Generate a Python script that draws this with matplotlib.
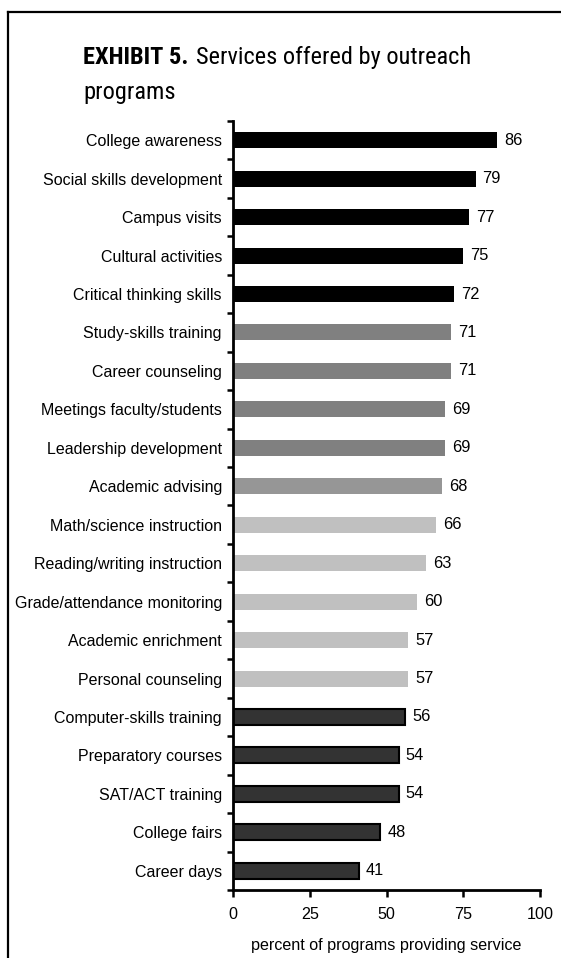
import matplotlib
matplotlib.use("Agg")
import matplotlib.pyplot as plt
from matplotlib.lines import Line2D
from matplotlib import font_manager

categories = [
    "College awareness", "Social skills development", "Campus visits",
    "Cultural activities", "Critical thinking skills", "Study-skills training",
    "Career counseling", "Meetings faculty/students", "Leadership development",
    "Academic advising", "Math/science instruction", "Reading/writing instruction",
    "Grade/attendance monitoring", "Academic enrichment", "Personal counseling",
    "Computer-skills training", "Preparatory courses", "SAT/ACT training",
    "College fairs", "Career days",
]
values = [86, 79, 77, 75, 72, 71, 71, 69, 69, 68, 66, 63, 60, 57, 57, 56, 54, 54, 48, 41]
groups = [0] * 5 + [1] * 4 + [2] + [3] * 5 + [4] * 5
group_colors = ["#000000", "#808080", "#969696", "#c0c0c0", "#333333"]
group_edges = [None, None, None, None, "#000000"]
x_ticks = [0, 25, 50, 75, 100]

W, H = 561, 958
installed = {f.name for f in font_manager.fontManager.ttflist}
narrow = "Liberation Sans"
for cand in ["Liberation Sans Narrow", "Roboto Condensed", "Open Sans Condensed"]:
    if cand in installed:
        narrow = cand
        break
plt.rcParams["font.family"] = ["Liberation Sans", "DejaVu Sans"]

fig = plt.figure(figsize=(W / 100, H / 100), dpi=100)
ax = fig.add_axes([233 / W, 1 - 890 / H, (540 - 233) / W, (890 - 121) / H])

ypos = list(range(len(categories)))
for y, v, g in zip(ypos, values, groups):
    edge = group_edges[g]
    ax.barh(y, v, height=0.416, color=group_colors[g],
            edgecolor=edge if edge else group_colors[g],
            linewidth=1.5 if edge else 0)
    ax.text(v + 2.3, y, f"{v}", va="center", ha="left", fontsize=11.8, color="#000000")

ax.set_ylim(len(categories) - 0.5, -0.5)
ax.set_xlim(0, 100)
ax.set_yticks([y + 0.5 for y in range(-1, len(categories))])
ax.set_yticklabels([])
ax.set_yticks(ypos, minor=True)
ax.set_yticklabels(categories, minor=True, fontsize=11.5)
ax.tick_params(axis="y", which="minor", length=0, pad=8)
ax.tick_params(axis="y", which="major", length=4, width=1.8, direction="out")
ax.set_xticks(x_ticks)
ax.set_xticklabels([str(t) for t in x_ticks], fontsize=11.6)
ax.tick_params(axis="x", length=5, width=1.8, direction="out", pad=7)

for s in ["top", "right"]:
    ax.spines[s].set_visible(False)
for s in ["left", "bottom"]:
    ax.spines[s].set_linewidth(2)

ax.set_xlabel("percent of programs providing service", fontsize=11.6, labelpad=12)

# Two-line title; the first line is sized to span from x=83 to x=470
title_family = [narrow, "DejaVu Sans"]
fig.canvas.draw()
renderer = fig.canvas.get_renderer()
probe_b = fig.text(0, 0, "EXHIBIT 5.", fontsize=20, fontweight="bold", family=title_family)
probe_r = fig.text(0, 0, "Services offered by outreach", fontsize=20, family=title_family)
wb = probe_b.get_window_extent(renderer).width
wr = probe_r.get_window_extent(renderer).width
probe_b.remove()
probe_r.remove()
gap = 7
size = 20 * (470 - 83 - gap) / (wb + wr)
wb *= size / 20

fig.text(83 / W, 1 - 64 / H, "EXHIBIT 5.", fontsize=size, fontweight="bold",
         family=title_family, ha="left", va="baseline")
fig.text((83 + wb + gap) / W, 1 - 64 / H, "Services offered by outreach", fontsize=size,
         family=title_family, ha="left", va="baseline")
fig.text(83 / W, 1 - 99 / H, "programs", fontsize=size,
         family=title_family, ha="left", va="baseline")

# Frame lines along the top and left edges
fig.add_artist(Line2D([8 / W, 1], [1 - 12 / H, 1 - 12 / H], color="black", lw=1.6,
                      transform=fig.transFigure))
fig.add_artist(Line2D([8 / W, 8 / W], [0, 1 - 12 / H], color="black", lw=1.6,
                      transform=fig.transFigure))

fig.savefig("out.png", dpi=100)
